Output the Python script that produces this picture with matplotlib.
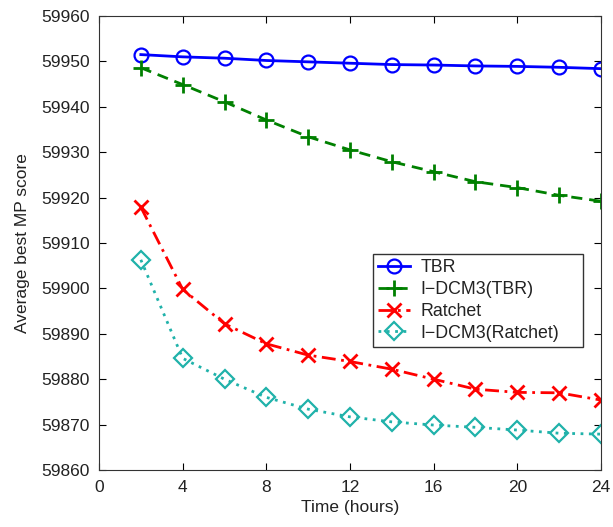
import matplotlib
matplotlib.use("Agg")
import matplotlib.pyplot as plt

plt.rcParams['font.family'] = ['Liberation Sans', 'DejaVu Sans']

hours = [2, 4, 6, 8, 10, 12, 14, 16, 18, 20, 22, 24]
tbr = [59951.5, 59951.0, 59950.7, 59950.2, 59949.9, 59949.6, 59949.3, 59949.2, 59949.0, 59948.9, 59948.7, 59948.4]
idcm3_tbr = [59948.6, 59944.9, 59941.1, 59937.1, 59933.4, 59930.5, 59927.9, 59925.7, 59923.5, 59922.2, 59920.5, 59919.2]
ratchet = [59917.9, 59899.8, 59892.2, 59887.8, 59885.3, 59883.9, 59882.2, 59880.0, 59877.8, 59877.1, 59877.0, 59875.4]
idcm3_ratchet = [59906.3, 59884.6, 59880.0, 59876.0, 59873.4, 59871.7, 59870.6, 59869.9, 59869.4, 59868.8, 59868.1, 59867.9]
xticks = [0, 4, 8, 12, 16, 20, 24]
yticks = list(range(59860, 59961, 10))

text_color = '#222222'

fig = plt.figure(figsize=(6.13, 5.27), dpi=100)
ax = fig.add_axes([99 / 613, 1 - 470 / 527, 502 / 613, 454 / 527])

ax.plot(hours, tbr, color='#0000ff', linestyle='-', linewidth=2, marker='o',
        markersize=10, markerfacecolor='none', markeredgewidth=1.6, label='TBR')
ax.plot(hours, idcm3_tbr, color='#008000', linestyle=(0, (4, 2.5)), linewidth=2, marker='+',
        markersize=12, markeredgewidth=2, label='I\u2212DCM3(TBR)')
ax.plot(hours, ratchet, color='#ff0000', linestyle=(0, (5, 2, 1, 2)), linewidth=2, marker='x',
        markersize=10, markeredgewidth=2, label='Ratchet')
ax.plot(hours, idcm3_ratchet, color='#20b2aa', linestyle=(0, (1, 2)), linewidth=2, marker='D',
        markersize=9, markerfacecolor='none', markeredgewidth=1.6, label='I\u2212DCM3(Ratchet)')

ax.set_xlim(0, 24)
ax.set_ylim(59860, 59960)
ax.set_xticks(xticks)
ax.set_yticks(yticks)
ax.tick_params(direction='in', top=True, right=True, labelsize=12.5, length=5,
               labelcolor=text_color)
ax.tick_params(axis='y', pad=6.5)
ax.tick_params(axis='x', pad=7)
ax.set_xlabel('Time (hours)', fontsize=12.5, labelpad=4, color=text_color)
ax.set_ylabel('Average best MP score', fontsize=12.5, labelpad=8, color=text_color)
for sp in ax.spines.values():
    sp.set_color('#333333')

leg = ax.legend(loc='upper left', bbox_to_anchor=(0.546, 0.476 - 0.2, 0.418, 0.2),
                mode='expand', fontsize=12.8,
                frameon=True, fancybox=False, edgecolor='#333333', framealpha=1,
                borderpad=0.3, borderaxespad=0, labelspacing=0.27, handlelength=1.8,
                handletextpad=0.55)
leg.get_frame().set_linewidth(1.0)
for t in leg.get_texts():
    t.set_color(text_color)

fig.savefig('out.png', dpi=100)
